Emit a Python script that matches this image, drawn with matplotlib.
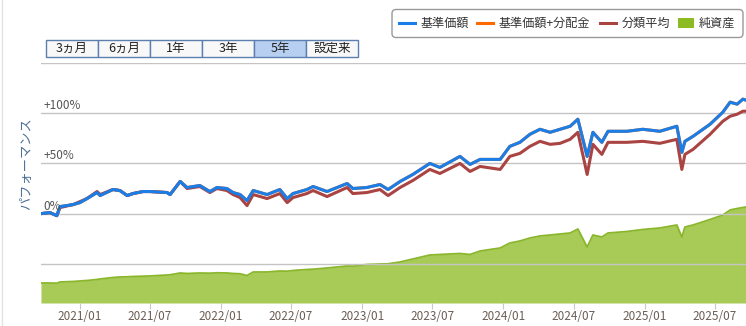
import numpy as np
import pandas as pd
import matplotlib
matplotlib.use('Agg')
import matplotlib.pyplot as plt
import matplotlib.dates as mdates
from matplotlib.patches import FancyBboxPatch, Rectangle

plt.rcParams['font.family'] = ['Noto Sans CJK JP', 'DejaVu Sans']

# data (% performance, net assets in 億円)
dates = pd.to_datetime([
    '2020-09-22', '2020-10-15', '2020-11-02', '2020-11-10', '2020-12-14', '2021-01-01',
    '2021-01-19', '2021-02-14', '2021-02-22', '2021-03-27', '2021-04-14', '2021-05-03',
    '2021-05-18', '2021-06-13', '2021-07-01', '2021-08-14', '2021-08-22', '2021-09-17',
    '2021-10-05', '2021-11-07', '2021-12-03', '2021-12-21', '2022-01-16', '2022-02-01',
    '2022-02-19', '2022-03-09', '2022-03-25', '2022-04-30', '2022-06-02', '2022-06-21',
    '2022-07-06', '2022-08-11', '2022-08-27', '2022-10-02', '2022-11-23', '2022-12-08',
    '2023-01-13', '2023-02-16', '2023-03-09', '2023-04-09', '2023-05-12', '2023-06-25',
    '2023-07-21', '2023-09-11', '2023-10-07', '2023-11-02', '2023-12-24', '2024-01-18',
    '2024-02-13', '2024-03-10', '2024-04-05', '2024-05-01', '2024-05-27', '2024-06-22',
    '2024-07-12', '2024-08-05', '2024-08-20', '2024-09-12', '2024-09-28', '2024-11-16',
    '2024-12-27', '2025-02-09', '2025-03-25', '2025-04-07', '2025-04-15', '2025-05-06',
    '2025-06-19', '2025-07-22', '2025-08-10', '2025-08-28', '2025-09-12', '2025-09-20'])

nav = [0, 1, -2, 7, 9, 11, 15, 21, 18, 24, 23, 18,
       20, 22, 22, 21, 19, 32, 26, 28, 22, 26, 25, 21,
       19, 13, 23, 19, 24, 15, 20, 24, 27, 22, 30, 25,
       26, 29, 24, 32, 39, 50, 46, 57, 49, 54, 54, 67,
       71, 79, 84, 81, 84, 87, 94, 57, 81, 71, 82, 82,
       84, 82, 87, 61, 72, 77, 89, 101, 111, 109, 114, 113]

nav_div = nav  # 基準価額+分配金 (no distributions, same as nav)

category = [0, 1, -2, 6, 9, 12, 15, 22, 19, 24, 23, 18,
            20, 22, 22, 21, 19, 32, 25, 27, 21, 25, 23, 19,
            16, 8, 19, 15, 20, 11, 16, 20, 23, 17, 26, 20,
            21, 24, 18, 26, 33, 44, 40, 50, 42, 47, 44, 57,
            60, 67, 72, 69, 70, 74, 81, 39, 69, 59, 71, 71,
            72, 70, 74, 44, 59, 64, 79, 92, 97, 99, 102, 102]

net_assets = [200, 200, 198, 210, 215, 220, 225, 235, 240, 255, 260, 262,
              265, 268, 270, 280, 282, 300, 295, 300, 298, 302, 300, 295,
              292, 275, 310, 310, 320, 318, 325, 335, 338, 350, 370, 368,
              385, 390, 392, 410, 440, 480, 485, 495, 485, 520, 550, 600,
              620, 650, 670, 680, 690, 700, 740, 560, 680, 660, 700, 715,
              735, 750, 780, 660, 760, 780, 835, 880, 930, 945, 955, 960]

y_ticks = [-50, 0, 50, 100, 150]
y_labels = {0: '0%', 50: '+50%', 100: '+100%'}
x_ticks = pd.to_datetime(['2021-01-01', '2021-07-01', '2022-01-01', '2022-07-01', '2023-01-01',
                          '2023-07-01', '2024-01-01', '2024-07-01', '2025-01-01', '2025-07-01'])
buttons = ['3ヵ月', '6ヵ月', '1年', '3年', '5年', '設定来']
selected = '5年'
legend_items = ['基準価額', '基準価額+分配金', '分類平均', '純資産']

W, H = 746, 326
fig = plt.figure(figsize=(W / 100, H / 100), dpi=100)
fig.patch.set_facecolor('white')

ax = fig.add_axes([41 / W, 23 / H, 705 / W, 240 / H])
ax2 = ax.twinx()
ax.set_zorder(ax2.get_zorder() + 1)
ax.patch.set_visible(False)

ax2.fill_between(dates, net_assets, 0, color='#a7cb56', lw=0)
ax2.plot(dates, net_assets, color='#8ab62c', lw=1.3)
ax2.set_ylim(0, 2400)
ax2.set_yticks([])

ax.plot(dates, nav_div, color='#ff6a00', lw=2.2)
ax.plot(dates, category, color='#a94442', lw=2.2)
ax.plot(dates, nav, color='#1a7ee8', lw=2.2)

ax.set_xlim(pd.Timestamp('2020-09-22'), pd.Timestamp('2025-09-20'))
ax.set_ylim(-89, 150)
ax.set_yticks(y_ticks)
ax.yaxis.grid(True, color='#c4c4c4', lw=1)
ax.tick_params(axis='y', left=False, labelleft=False)
for v, s in y_labels.items():
    ax.text(0.003, v + 1, s, transform=ax.get_yaxis_transform(), ha='left', va='bottom',
            fontsize=8.5, color='#555555', zorder=5)

ax.set_xticks(x_ticks)
ax.xaxis.set_major_formatter(mdates.DateFormatter('%Y/%m'))
ax.tick_params(axis='x', length=4, color='#c8c8c8', labelsize=8.5, labelcolor='#6b5e55', pad=1)
for a in (ax, ax2):
    for sp in a.spines.values():
        sp.set_visible(False)

# overlay in pixel coords for buttons, legend, axis title
ov = fig.add_axes([0, 0, 1, 1], zorder=10)
ov.set_xlim(0, W)
ov.set_ylim(H, 0)
ov.axis('off')
ov.plot([2, 2], [0, H], color='#e2e2e2', lw=1)

bx, bw = 46, 52
for i, name in enumerate(buttons):
    fc = '#b7cff0' if name == selected else '#f8f8f8'
    ov.add_patch(Rectangle((bx + i * bw, 39.5), bw, 17.5, facecolor=fc, edgecolor='#5b7fae', lw=1))
    ov.text(bx + i * bw + bw / 2, 48.5, name, ha='center', va='center', fontsize=9, color='#222222')

ov.add_patch(FancyBboxPatch((392, 9.5), 351, 28, boxstyle='round,pad=0,rounding_size=4',
                            facecolor='white', edgecolor='#999999', lw=1))
cols = ['#1a7ee8', '#ff6a00', '#a94442']
lx = [399, 477, 600]
for c, x0, name in zip(cols, lx, legend_items[:3]):
    ov.plot([x0, x0 + 16], [23, 23], color=c, lw=2.2)
    ov.text(x0 + 22, 23, name, ha='left', va='center', fontsize=8.7, color='#333333')
ov.add_patch(Rectangle((678, 18), 16, 10, facecolor='#8dbb24', edgecolor='none'))
ov.text(699, 23, legend_items[3], ha='left', va='center', fontsize=8.7, color='#333333')

ov.text(27, 164, 'パフォーマンス', rotation=90, ha='center', va='center', fontsize=9.5, color='#4e6f96')

fig.savefig('out.png', dpi=100)
